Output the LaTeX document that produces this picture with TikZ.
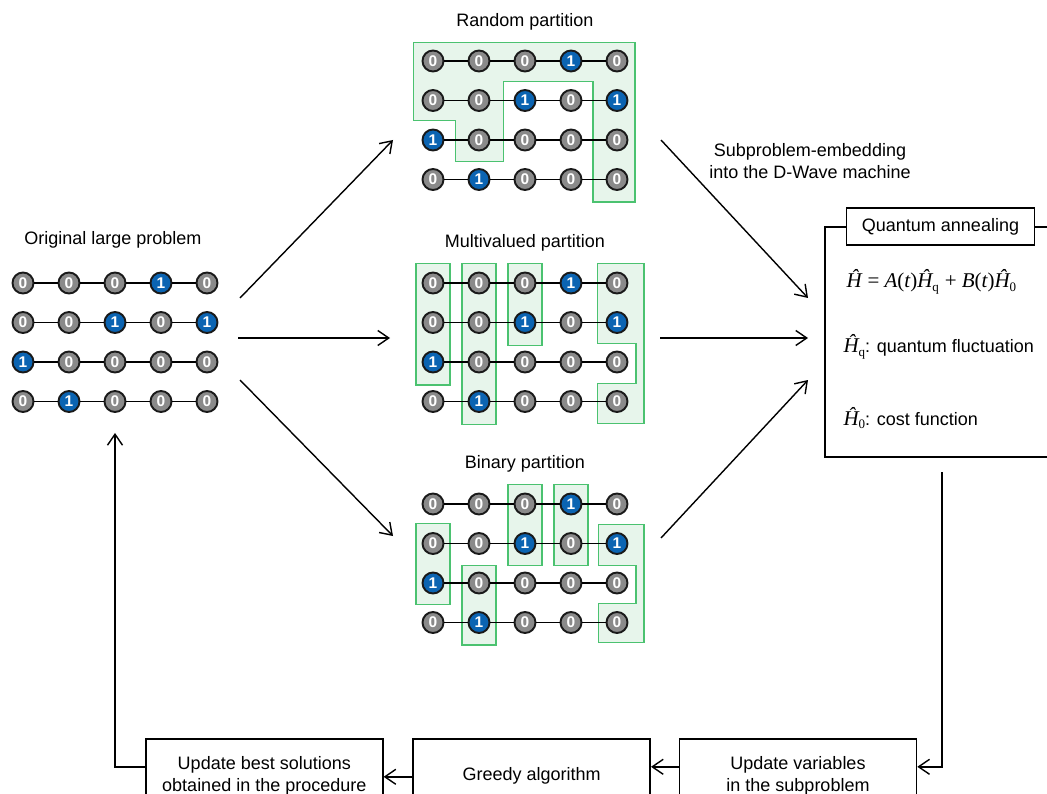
\documentclass[tikz,border=0pt]{standalone}
\usepackage{amsmath,amssymb}
\usepackage{xcolor}
\usepackage{fontspec}
\setmainfont{Liberation Sans}
\newfontfamily\timesfont{Liberation Serif}
\usepackage{tikz}
\usetikzlibrary{arrows.meta,positioning}

\definecolor{spincol0}{HTML}{8A8A8A}
\definecolor{spincol1}{HTML}{0B64B2}
\definecolor{partline}{HTML}{4BC270}
\definecolor{partfill}{HTML}{E7F5EB}

\newcommand{\hop}[1]{{\timesfont\itshape Ĥ}\raisebox{-0.3ex}{\timesfont\fontsize{13}{13}\selectfont #1}}
\newcommand{\spingrid}[3]{%
\foreach \vals [count=\row] in {{0,0,0,1,0},{0,0,1,0,1},{1,0,0,0,0},{0,1,0,0,0}}{
  \foreach \val [count=\col] in \vals
    \node[spin=\val] (#1-\row-\col) at ({#2+46*(\col-1)},{#3+39.5*(\row-1)}) {\val};
  \foreach \col [count=\nxt from 2] in {1,...,4}
    \draw[bond] (#1-\row-\col) -- (#1-\row-\nxt);
}}

\begin{document}
\begin{tikzpicture}[x=1pt,y=-1pt,every node/.style={font=\fontsize{18}{22}\selectfont,align=center},
spin/.style={circle,draw=black!90,line width=1.9pt,fill=spincol#1,minimum size=21pt,inner sep=0pt,text=white,font=\bfseries\fontsize{15.5}{15.5}\selectfont},
bond/.style={line width=1.8pt},
part/.style={draw=partline,fill=partfill,line width=1.4pt},
flow/.style={-{Straight Barb[length=11pt,width=15pt]},line width=1.4pt},
stage/.style={draw,line width=1.6pt,minimum width=237pt,minimum height=74pt,anchor=north}]
\useasboundingbox (0,0) rectangle (1047,794);
\clip (0,0) rectangle (1047,794);

\begin{scope}[shift={(433,61)},x=46pt,y=-39.5pt]
\draw[part] (-0.43,-0.47) -- (4.39,-0.47) -- (4.39,3.57) -- (3.48,3.57) -- (3.48,0.52) -- (1.53,0.52) -- (1.53,2.55) -- (0.49,2.55) -- (0.49,1.5) -- (-0.43,1.5) -- cycle;
\end{scope}
\begin{scope}[shift={(433,283)},x=46pt,y=-39.5pt]
\draw[part] (-0.37,-0.5) rectangle (0.37,2.58);
\draw[part] (0.63,-0.5) rectangle (1.37,3.58);
\draw[part] (1.63,-0.5) rectangle (2.37,1.58);
\draw[part] (3.58,-0.5) -- (4.59,-0.5) -- (4.59,3.55) -- (3.58,3.55) -- (3.58,2.55) -- (4.41,2.55) -- (4.41,1.53) -- (3.58,1.53) -- cycle;
\end{scope}
\begin{scope}[shift={(433,504)},x=46pt,y=-39.5pt]
\draw[part] (-0.37,0.5) rectangle (0.37,2.55);
\draw[part] (0.63,1.55) rectangle (1.37,3.57);
\draw[part] (1.63,-0.5) rectangle (2.37,1.55);
\draw[part] (2.63,-0.5) rectangle (3.37,1.55);
\draw[part] (3.6,0.52) -- (4.59,0.52) -- (4.59,3.5) -- (3.6,3.5) -- (3.6,2.52) -- (4.41,2.52) -- (4.41,1.55) -- (3.6,1.55) -- cycle;
\end{scope}

\spingrid{orig}{23}{283}
\spingrid{rand}{433}{61}
\spingrid{multi}{433}{283}
\spingrid{bin}{433}{504}

\node (origtitle) at (113,240) {Original large problem};
\node (randtitle) at (525,22) {Random partition};
\node (multititle) at (525,243) {Multivalued partition};
\node (bintitle) at (525,464) {Binary partition};
\node (embed) at (810,161) {Subproblem-embedding\\into the D-Wave machine};

\draw[line width=1.6pt] (825,227) rectangle (1080,457);
\node[draw,fill=white,line width=1.6pt,minimum width=188pt,minimum height=37pt,inner sep=0pt] (qa) at (940.5,226.7) {Quantum annealing};
\node[anchor=west,font=\fontsize{21}{24}\selectfont] (ham) at (843,282) {\hop{}\;{\timesfont = \itshape A\upshape(\itshape t\upshape)}\hop{q}\;{\timesfont + \itshape B\upshape(\itshape t\upshape)}\hop{0}};
\node[anchor=west] (hq) at (840,347) {{\fontsize{21}{24}\selectfont\hop{q}}: quantum fluctuation};
\node[anchor=west] (hzero) at (840,418) {{\fontsize{21}{24}\selectfont\hop{0}}: cost function};

\coordinate (fan-up) at (240,298);
\coordinate (fan-mid) at (238,338);
\coordinate (fan-low) at (240,380);
\coordinate (rand-in) at (393,140);
\coordinate (multi-in) at (390,338);
\coordinate (bin-in) at (393,536);
\coordinate (rand-out) at (661,140);
\coordinate (multi-out) at (660,338);
\coordinate (bin-out) at (661,538);
\coordinate (qa-in1) at (808,298);
\coordinate (qa-in2) at (808,338);
\coordinate (qa-in3) at (808,380);
\coordinate (qa-out) at (942,472);

\draw[flow] (fan-up) -- (rand-in);
\draw[flow] (fan-mid) -- (multi-in);
\draw[flow] (fan-low) -- (bin-in);
\draw[flow] (rand-out) -- (qa-in1);
\draw[flow] (multi-out) -- (qa-in2);
\draw[flow] (bin-out) -- (qa-in3);

\node[stage] (best) at (264.3,738) {Update best solutions\\obtained in the procedure};
\node[stage] (greedy) at (531.7,738) {Greedy algorithm};
\node[stage] (upvar) at (798,738) {Update variables\\in the subproblem};

\draw[flow] (qa-out) |- ([yshift=9pt]upvar.east);
\draw[flow] ([yshift=9pt]upvar.west) -- ([yshift=9pt]greedy.east);
\draw[flow] ([yshift=-1pt]greedy.west) -- ([yshift=-1pt]best.east);
\draw[flow,shorten >=20pt] ([yshift=9pt]best.west) -| (orig-4-3);
\end{tikzpicture}
\end{document}
